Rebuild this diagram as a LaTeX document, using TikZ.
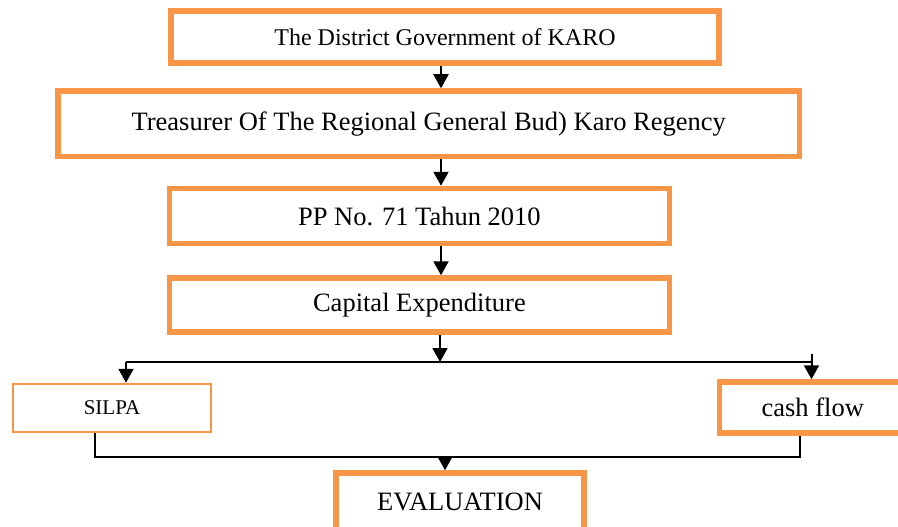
\documentclass[tikz,border=0pt]{standalone}
\usepackage{fontspec}
\setmainfont{Liberation Serif}
\usetikzlibrary{arrows.meta}
\definecolor{boxorange}{RGB}{247,150,70}
\tikzset{
  obox/.style={draw=boxorange, line width=5.5pt, rectangle, inner sep=0pt, align=center,
    font=\fontsize{26.5}{30}\selectfont},
  thinbox/.style={draw=boxorange, line width=2.5pt, rectangle, inner sep=0pt, align=center,
    font=\fontsize{21}{24}\selectfont},
  conn/.style={draw=black, line width=2pt},
  arr/.style={conn, -{Triangle[width=15pt,length=14pt]}}
}
\begin{document}
\begin{tikzpicture}[x=1pt,y=-1pt]
\useasboundingbox (0,0) rectangle (898,527);
\clip (0,0) rectangle (898,527);
\node[obox, minimum width=548pt, minimum height=52pt, font=\fontsize{24}{28}\selectfont] (b1) at (445,37) {The District Government of KARO};
\node[obox, minimum width=741.5pt, minimum height=65.5pt] (b2) at (428.75,123.75) {Treasurer Of The Regional General Bud) Karo Regency};
\node[obox, minimum width=500pt, minimum height=55pt] (b3) at (419.4,216) {PP No. 71 Tahun 2010};
\node[obox, minimum width=500pt, minimum height=54pt] (b4) at (419.4,305) {Capital Expenditure};
\node[thinbox, minimum width=198pt, minimum height=48pt] (silpa) at (112,408) {SILPA};
\node[obox, minimum width=186.5pt, minimum height=51pt] (cash) at (812.75,407.5) {cash flow};
\node[obox, minimum width=248pt, minimum height=58pt] (eval) at (460,502) {EVALUATION};
\coordinate (ax) at (441,0);
\draw[arr] (b1.south -| ax) -- (b2.north -| ax);
\draw[arr] (b2.south -| ax) -- (b3.north -| ax);
\draw[arr] (b3.south -| ax) -- (b4.north -| ax);
\coordinate (sp) at (440,362);
\coordinate (sl) at (126,362);
\coordinate (sr) at (811.5,362);
\coordinate (srt) at (811.5,354);
\draw[arr] (b4.south -| sp) -- (sp);
\draw[conn] (sl) -- (sr);
\draw[arr] (sl) -- (sl |- silpa.north);
\draw[arr] (srt) -- (srt |- cash.north);
\coordinate (jl) at (94.5,457);
\coordinate (jr) at (800,457);
\coordinate (jm) at (445,457);
\draw[conn] (jl |- silpa.south) -- (jl) -- (jr) -- (jr |- cash.south);
\draw[arr] (jm) -- (jm |- eval.north);
\end{tikzpicture}
\end{document}
